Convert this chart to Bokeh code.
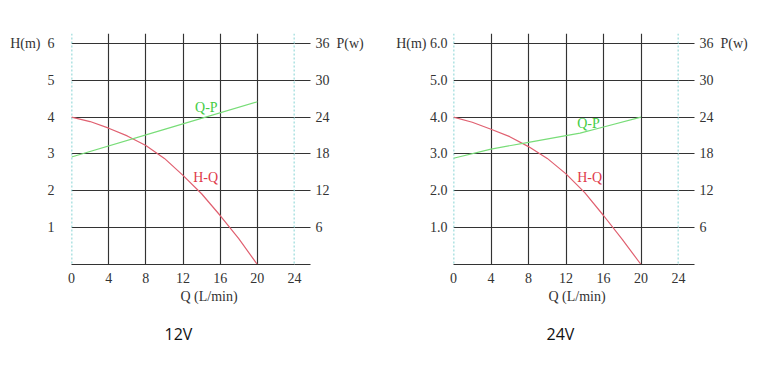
from bokeh.plotting import figure
from bokeh.models import Range1d, LinearAxis, FixedTicker, Span, Label, Title
from bokeh.layouts import row
from bokeh.embed import file_html
from bokeh.resources import INLINE

# ---- data ----
q_ticks = [0, 4, 8, 12, 16, 20, 24]
h_ticks = [1, 2, 3, 4, 5, 6]
p_ticks = [0, 6, 12, 18, 24, 30, 36]

q_hq_12 = [0, 2, 4, 6, 8, 10, 12, 14, 16, 18, 20]
h_hq_12 = [4.0, 3.88, 3.70, 3.49, 3.23, 2.88, 2.42, 1.92, 1.33, 0.70, 0.0]
q_qp_12 = [0, 10, 20]
p_qp_12 = [17.5, 22.0, 26.5]

q_hq_24 = [0, 2, 4, 6, 8, 10, 12, 14, 16, 18, 20]
h_hq_24 = [4.0, 3.86, 3.67, 3.47, 3.20, 2.88, 2.46, 1.95, 1.33, 0.68, 0.0]
q_qp_24 = [0, 4, 8, 12, 13.5, 16, 20]
p_qp_24 = [17.3, 18.8, 19.9, 21.0, 21.4, 22.4, 24.0]

NB = "\u00a0"
h_labels_12 = {1: "1", 2: "2", 3: "3", 4: "4", 5: "5", 6: "H(m)" + NB * 2 + "6"}
h_labels_24 = {1: "1.0", 2: "2.0", 3: "3.0", 4: "4.0", 5: "5.0", 6: "H(m)" + NB + "6.0"}
p_labels = {0: "", 6: "6", 12: "12", 18: "18", 24: "24", 30: "30", 36: "36" + NB * 2 + "P(w)"}

SERIF = "Liberation Serif"
TXT = "#333333"
GRID = "#333333"
RED = "#e06070"
GREEN = "#78dd78"
CYAN = "#66c8c8"

YMAX = 6.27


def make_chart(title, q_hq, h_hq, q_qp, p_qp, hlabels, W, left_border, frame_w, top_border,
               hlabel_standoff, qp_pos, hq_pos, qlabel_offset, title_offset):
    H = 363
    frame_h = 232
    p = figure(width=W, height=H, output_backend="svg", toolbar_location=None,
               x_range=Range1d(0, 24), y_range=Range1d(0, YMAX),
               min_border_left=left_border, min_border_right=W - left_border - frame_w,
               min_border_top=top_border, min_border_bottom=H - top_border - frame_h)
    p.outline_line_color = None
    p.background_fill_color = "white"
    p.border_fill_color = "white"
    p.extra_y_ranges = {"p": Range1d(0, 36 * YMAX / 6)}

    # grids
    p.xgrid.ticker = FixedTicker(ticks=[4, 8, 12, 16, 20])
    p.xgrid.grid_line_color = GRID
    p.xgrid.grid_line_width = 1.15
    p.ygrid.ticker = FixedTicker(ticks=h_ticks)
    p.ygrid.grid_line_color = GRID
    p.ygrid.grid_line_width = 1.15

    # bottom axis
    xa = p.xaxis[0]
    xa.ticker = FixedTicker(ticks=q_ticks)
    xa.axis_line_color = GRID
    xa.axis_line_width = 1.15
    xa.major_tick_line_color = None
    xa.major_tick_out = 0
    xa.major_tick_in = 0
    xa.minor_tick_line_color = None
    xa.minor_tick_out = 0
    xa.major_label_standoff = 8
    xa.major_label_text_font = SERIF
    xa.major_label_text_font_size = "14px"
    xa.major_label_text_color = TXT

    # left axis
    ya = p.yaxis[0]
    ya.ticker = FixedTicker(ticks=h_ticks)
    ya.major_label_overrides = hlabels
    ya.axis_line_color = None
    ya.major_tick_line_color = None
    ya.major_tick_out = 0
    ya.major_tick_in = 0
    ya.minor_tick_line_color = None
    ya.minor_tick_out = 0
    ya.major_label_standoff = hlabel_standoff
    ya.major_label_text_font = SERIF
    ya.major_label_text_font_size = "14px"
    ya.major_label_text_color = TXT

    # right axis
    ra = LinearAxis(y_range_name="p", ticker=FixedTicker(ticks=p_ticks))
    ra.major_label_overrides = p_labels
    ra.axis_line_color = None
    ra.major_tick_line_color = GRID
    ra.major_tick_line_width = 1.15
    ra.major_tick_out = 16
    ra.major_tick_in = 0
    ra.minor_tick_line_color = None
    ra.minor_tick_out = 0
    ra.major_label_standoff = 5
    ra.major_label_text_font = SERIF
    ra.major_label_text_font_size = "14px"
    ra.major_label_text_color = TXT
    p.add_layout(ra, "right")

    # dotted boundary lines
    for xv in (0, 24):
        p.add_layout(Span(location=xv, dimension="height", line_color=CYAN,
                          line_dash="2 2", line_width=1.6))

    # curves
    p.line(q_hq, h_hq, line_color=RED, line_width=1.2)
    p.line(q_qp, p_qp, line_color=GREEN, line_width=1.2, y_range_name="p")

    lab = dict(text_font=SERIF, text_font_size="14px", text_baseline="middle")
    p.add_layout(Label(x=qp_pos[0], y=qp_pos[1], text="Q-P", text_color="#44cc44", **lab))
    p.add_layout(Label(x=hq_pos[0], y=hq_pos[1], text="H-Q", text_color="#e03a4a", **lab))

    p.add_layout(Title(text="Q (L/min)", align="left", offset=qlabel_offset, standoff=3,
                       text_font=SERIF, text_font_size="14px", text_font_style="normal",
                       text_color=TXT), "below")
    p.add_layout(Title(text=title, align="left", offset=title_offset, standoff=30,
                       text_font="Open Sans", text_font_size="16px", text_font_style="normal",
                       text_color="#111111"), "below")
    return p


p1 = make_chart("12V", q_hq_12, h_hq_12, q_qp_12, p_qp_12, h_labels_12, W=388,
                left_border=71, frame_w=223, top_border=33, hlabel_standoff=17,
                qp_pos=(13.3, 4.25), hq_pos=(13.1, 2.36), qlabel_offset=109, title_offset=93)
p2 = make_chart("24V", q_hq_24, h_hq_24, q_qp_24, p_qp_24, h_labels_24, W=388,
                left_border=65, frame_w=225, top_border=32, hlabel_standoff=6,
                qp_pos=(13.2, 3.82), hq_pos=(13.2, 2.35), qlabel_offset=95, title_offset=93)

layout = row(p1, p2)
open("out.html", "w").write(file_html(layout, INLINE))
